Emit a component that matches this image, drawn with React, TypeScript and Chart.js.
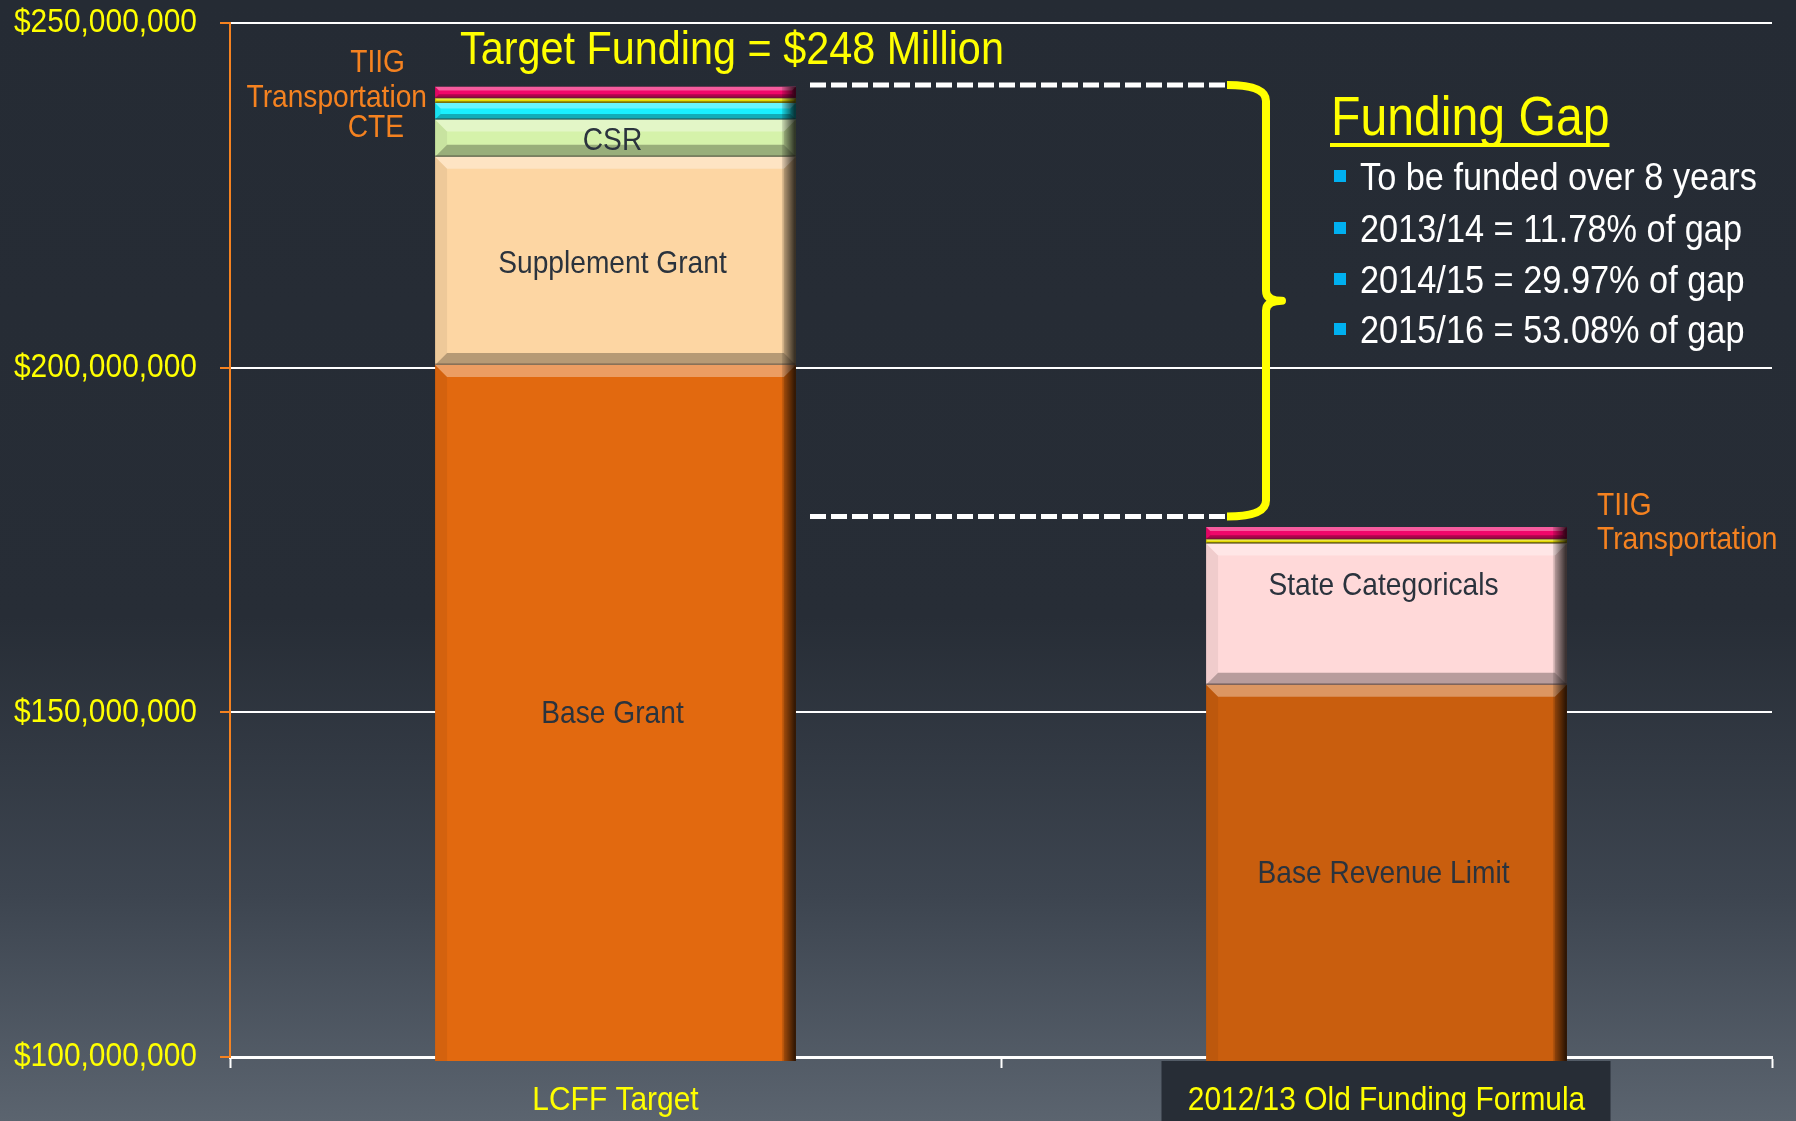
import React, { useEffect, useRef } from 'react';
import { Chart, registerables } from 'chart.js';

Chart.register(...registerables);

// ---------- data (values in millions of dollars) ----------
const categories = ['LCFF Target', '2012/13 Old Funding Formula'];
const baseGrant = [200.4, null];
const baseRevenueLimit = [null, 154.0];
const supplementGrant = [30.2, null];
const stateCategoricals = [null, 20.5];
const csr = [5.4, null];
const cte = [2.4, null];
const transportation = [0.7, 0.6];
const tiig = [1.65, 1.8];
const yTicks = [100, 150, 200, 250];
const gapTop = 241.0;
const gapBottom = 178.4;

const titleText = 'Target Funding = $248 Million';
const gapTitle = 'Funding Gap';
const gapBullets = [
  'To be funded over 8 years',
  '2013/14 = 11.78% of gap',
  '2014/15 = 29.97% of gap',
  '2015/16 = 53.08% of gap',
];
const leftNotes = ['TIIG', 'Transportation', 'CTE'];
const rightNotes = ['TIIG', 'Transportation'];

const SANS = "'Liberation Sans', Arial, sans-serif";
const YELLOW = '#ffff00';
const ORANGE = '#f58220';
const LABEL_DARK = '#2b333d';
const SQUEEZE = 0.88;

// draws condensed (horizontally squeezed) text, returns drawn width
function narrowText(
  ctx: CanvasRenderingContext2D,
  text: string,
  x: number,
  y: number,
  size: number,
  align: CanvasTextAlign,
  color: string,
  sx = SQUEEZE,
  baseline: CanvasTextBaseline = 'alphabetic'
) {
  ctx.save();
  ctx.font = `${size}px ${SANS}`;
  ctx.fillStyle = color;
  ctx.textAlign = align;
  ctx.textBaseline = baseline;
  const w = ctx.measureText(text).width * sx;
  ctx.translate(x, y);
  ctx.scale(sx, 1);
  ctx.fillText(text, 0, 0);
  ctx.restore();
  return w;
}

// make the axis tick labels use the same narrow look
const condenseTicksPlugin = {
  id: 'condenseTicks',
  afterLayout(chart: any) {
    Object.values(chart.scales).forEach((s: any) => {
      if (s._condensed) return;
      s._condensed = true;
      const orig = s.drawLabels.bind(s);
      s.drawLabels = (area: any) => {
        const ctx = s.ctx;
        const of = ctx.fillText;
        ctx.fillText = function (t: string, x: number, y: number, mw?: number) {
          this.save();
          this.translate(x, y);
          this.scale(SQUEEZE, 1);
          if (mw === undefined) of.call(this, t, 0, 0);
          else of.call(this, t, 0, 0, mw / SQUEEZE);
          this.restore();
        };
        try {
          orig(area);
        } finally {
          ctx.fillText = of;
        }
      };
    });
  },
};

const backgroundPlugin = {
  id: 'bg',
  beforeDraw(chart: any) {
    const { ctx, width, height } = chart;
    ctx.save();
    const g = ctx.createLinearGradient(0, 0, 0, height);
    g.addColorStop(0, '#252b34');
    g.addColorStop(0.55, '#272d36');
    g.addColorStop(0.8, '#3d4550');
    g.addColorStop(1, '#5b646f');
    ctx.fillStyle = g;
    ctx.fillRect(0, 0, width, height);
    const xs = chart.scales.x;
    const cx = xs.getPixelForValue(1);
    ctx.fillStyle = '#272d36';
    ctx.fillRect(cx - 225, chart.chartArea.bottom + 4, 449, height - chart.chartArea.bottom);
    ctx.restore();
  },
};

const bevelPlugin = {
  id: 'bevel',
  afterDatasetsDraw(chart: any) {
    const ctx = chart.ctx;
    const area = chart.chartArea;
    ctx.save();
    ctx.beginPath();
    ctx.rect(area.left, area.top, area.right - area.left, area.bottom - area.top + 4);
    ctx.clip();
    chart.data.datasets.forEach((ds: any, i: number) => {
      const meta = chart.getDatasetMeta(i);
      meta.data.forEach((el: any, j: number) => {
        if (ds.data[j] == null) return;
        const p = el.getProps(['x', 'y', 'base', 'width'], true);
        const l = p.x - p.width / 2;
        const r = p.x + p.width / 2;
        const t = Math.min(p.y, p.base);
        let b = Math.max(p.y, p.base);
        const clipped = b > area.bottom;
        if (clipped) b = area.bottom + 4;
        const h = b - t;
        if (h <= 0) return;
        const s = Math.min(12, h / 3);
        ctx.beginPath();
        ctx.moveTo(l, t);
        ctx.lineTo(r, t);
        ctx.lineTo(r - s, t + s);
        ctx.lineTo(l + s, t + s);
        ctx.closePath();
        ctx.fillStyle = 'rgba(255,255,255,0.35)';
        ctx.fill();
        if (!clipped) {
          ctx.beginPath();
          ctx.moveTo(l, b);
          ctx.lineTo(r, b);
          ctx.lineTo(r - s, b - s);
          ctx.lineTo(l + s, b - s);
          ctx.closePath();
          ctx.fillStyle = 'rgba(0,0,0,0.28)';
          ctx.fill();
        }
        ctx.beginPath();
        ctx.moveTo(l, t);
        ctx.lineTo(l + s, t + s);
        ctx.lineTo(l + s, clipped ? b : b - s);
        ctx.lineTo(l, b);
        ctx.closePath();
        ctx.fillStyle = 'rgba(0,0,0,0.06)';
        ctx.fill();
        const g = ctx.createLinearGradient(r - 14, 0, r, 0);
        g.addColorStop(0, 'rgba(0,0,0,0.1)');
        g.addColorStop(1, 'rgba(0,0,0,0.8)');
        ctx.beginPath();
        ctx.moveTo(r, t);
        ctx.lineTo(r - Math.max(s, 1), t + s);
        ctx.lineTo(r - Math.max(s, 1), clipped ? b : b - s);
        ctx.lineTo(r, b);
        ctx.closePath();
        ctx.fillStyle = 'rgba(0,0,0,0.12)';
        ctx.fill();
        ctx.fillStyle = g;
        ctx.fillRect(r - 14, t, 14, h);
        if (!clipped) {
          ctx.fillStyle = 'rgba(40,30,30,0.35)';
          ctx.fillRect(l, b - 1.5, r - l, 1.5);
        }
      });
    });
    ctx.restore();

    // segment labels
    chart.data.datasets.forEach((ds: any, i: number) => {
      if (!ds.segLabel) return;
      const meta = chart.getDatasetMeta(i);
      meta.data.forEach((el: any, j: number) => {
        if (ds.data[j] == null) return;
        const p = el.getProps(['x', 'y', 'base'], true);
        const t = Math.max(area.top, Math.min(p.y, p.base));
        const b = Math.min(area.bottom, Math.max(p.y, p.base));
        const y = ds.labelAtTop ? t + 40 : (t + b) / 2;
        narrowText(ctx, ds.segLabel, p.x - 3, y + 12, 32, 'center', LABEL_DARK);
      });
    });
  },
};

const annotationPlugin = {
  id: 'annotations',
  afterDraw(chart: any) {
    const ctx = chart.ctx;
    const ys = chart.scales.y;

    // title
    narrowText(ctx, titleText, 732, 64, 47, 'center', YELLOW);

    // left orange notes
    const lx = [405, 427, 404];
    const lby = [72, 107, 137];
    leftNotes.forEach((t, k) => narrowText(ctx, t, lx[k], lby[k], 32, 'right', ORANGE));
    // right orange notes
    const rby = [515, 549];
    rightNotes.forEach((t, k) => narrowText(ctx, t, 1597, rby[k], 32, 'left', ORANGE));

    ctx.save();
    // dashed gap lines
    const yT = ys.getPixelForValue(gapTop);
    const yB = ys.getPixelForValue(gapBottom);
    ctx.strokeStyle = '#ffffff';
    ctx.lineWidth = 5;
    ctx.setLineDash([16, 5]);
    ctx.beginPath();
    ctx.moveTo(810, yT);
    ctx.lineTo(1227, yT);
    ctx.moveTo(810, yB);
    ctx.lineTo(1227, yB);
    ctx.stroke();
    ctx.setLineDash([]);

    // brace
    const xL = 1227, xV = 1266, xTip = 1282;
    const yM = (yT + yB) / 2;
    const r = 16;
    ctx.strokeStyle = YELLOW;
    ctx.lineWidth = 8;
    ctx.lineJoin = 'round';
    ctx.beginPath();
    ctx.moveTo(xL, yT);
    ctx.quadraticCurveTo(xV, yT, xV, yT + r);
    ctx.lineTo(xV, yM - 10);
    ctx.quadraticCurveTo(xV, yM, xTip, yM);
    ctx.quadraticCurveTo(xV, yM, xV, yM + 10);
    ctx.lineTo(xV, yB - r);
    ctx.quadraticCurveTo(xV, yB, xL, yB);
    ctx.stroke();
    ctx.restore();

    // funding gap block
    const w = narrowText(ctx, gapTitle, 1331, 135, 56, 'left', YELLOW, 0.86);
    ctx.save();
    ctx.fillStyle = YELLOW;
    ctx.fillRect(1330, 143, w + 1, 4);
    ctx.restore();

    const bl = [190, 242, 293, 343];
    gapBullets.forEach((t, k) => {
      ctx.save();
      ctx.fillStyle = '#00b0f0';
      ctx.fillRect(1334, bl[k] - 20, 12, 12);
      ctx.restore();
      narrowText(ctx, t, 1360, bl[k], 39, 'left', '#ffffff');
    });
  },
};

export default function App() {
  const ref = useRef<HTMLCanvasElement | null>(null);

  useEffect(() => {
    document.body.style.margin = '0';
    const canvas = ref.current;
    if (!canvas) return;
    const mk = (label: string, data: (number | null)[], color: string, extra: any = {}) => ({
      label,
      data,
      backgroundColor: color,
      borderWidth: 0,
      barPercentage: 0.468,
      categoryPercentage: 1,
      clip: { left: 0, top: 0, right: 0, bottom: 4 },
      ...extra,
    });
    const chart = new Chart(canvas, {
      type: 'bar',
      data: {
        labels: categories,
        datasets: [
          mk('Base Grant', baseGrant, '#e2690f', { segLabel: 'Base Grant' }),
          mk('Base Revenue Limit', baseRevenueLimit, '#c95e0e', { segLabel: 'Base Revenue Limit' }),
          mk('Supplement Grant', supplementGrant, '#fdd6a3', { segLabel: 'Supplement Grant' }),
          mk('State Categoricals', stateCategoricals, '#ffd9d9', { segLabel: 'State Categoricals', labelAtTop: true }),
          mk('CSR', csr, '#d5f2aa', { segLabel: 'CSR' }),
          mk('CTE', cte, '#19f0ff'),
          mk('Transportation', transportation, '#e6dc00'),
          mk('TIIG', tiig, '#f0066a'),
        ] as any,
      },
      options: {
        responsive: false,
        animation: false,
        devicePixelRatio: 1,
        layout: { padding: { top: 23, right: 24, left: 0, bottom: 0 } },
        plugins: { legend: { display: false }, tooltip: { enabled: false } },
        scales: {
          x: {
            stacked: true,
            z: 1,
            grid: {
              display: true,
              drawOnChartArea: false,
              drawTicks: true,
              tickLength: 11,
              tickColor: '#ffffff',
              tickWidth: 2,
              offset: true,
            },
            border: { display: true, color: '#ffffff', width: 3 },
            ticks: {
              color: YELLOW,
              font: { family: SANS, size: 34 },
              padding: 12,
              maxRotation: 0,
              autoSkip: false,
            },
            afterFit: (s: any) => {
              s.height = 64;
              s.paddingLeft = 0;
              s.paddingRight = 0;
            },
          },
          y: {
            stacked: true,
            min: yTicks[0],
            max: yTicks[yTicks.length - 1],
            afterBuildTicks: (s: any) => {
              s.ticks = yTicks.map((v) => ({ value: v }));
            },
            grid: {
              color: '#ffffff',
              lineWidth: 2,
              tickColor: ORANGE,
              tickLength: 10,
              tickWidth: 2,
            },
            border: { color: ORANGE, width: 2 },
            ticks: {
              color: YELLOW,
              font: { family: SANS, size: 34 },
              padding: 23,
              callback: (v: any) => '$' + Math.round(Number(v) * 1e6).toLocaleString('en-US'),
            },
            afterFit: (s: any) => {
              s.width = 230;
              s.paddingTop = 0;
              s.paddingBottom = 0;
            },
          },
        },
      } as any,
      plugins: [condenseTicksPlugin, backgroundPlugin, bevelPlugin, annotationPlugin],
    });
    return () => chart.destroy();
  }, []);

  return (
    <div style={{ width: 1796, height: 1121 }}>
      <canvas ref={ref} width={1796} height={1121} style={{ display: 'block' }} />
    </div>
  );
}
